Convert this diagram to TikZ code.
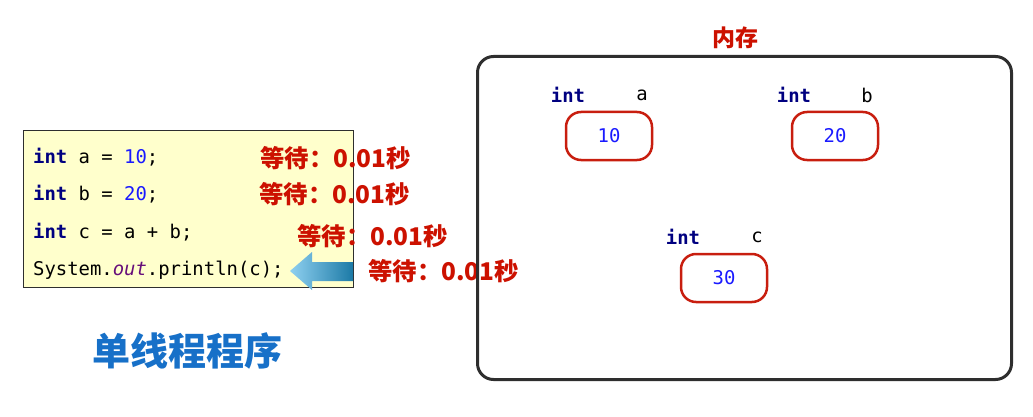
\documentclass[tikz,border=0pt]{standalone}
\usepackage{fontspec}
\setmonofont{DejaVu Sans Mono}
\newfontfamily\cjk{Noto Sans CJK SC}
\definecolor{kw}{HTML}{000080}
\definecolor{num}{HTML}{1A1AFF}
\definecolor{fld}{HTML}{660E7A}
\definecolor{wait}{HTML}{CC1100}
\definecolor{codebg}{HTML}{FFFFCC}
\definecolor{frame}{HTML}{2E2E2E}
\definecolor{cellred}{HTML}{C81E0F}
\definecolor{titleblue}{HTML}{1770C8}
\definecolor{arrowL}{HTML}{8FD0F0}
\definecolor{arrowR}{HTML}{1C7AA6}
\tikzset{
  code/.style={anchor=west,inner sep=0pt,font=\ttfamily\fontsize{18.9}{22}\selectfont},
  waitlbl/.style={anchor=west,inner sep=0pt,text=wait,font=\cjk\bfseries\fontsize{24.4}{27}\selectfont},
  memtxt/.style={inner sep=0pt,font=\ttfamily\fontsize{18.9}{22}\selectfont},
  memkw/.style={memtxt,text=kw,font=\ttfamily\bfseries\fontsize{18.9}{22}\selectfont},
  cell/.style={draw=cellred,line width=2.5pt,rounded corners=15pt,minimum width=86pt,minimum height=48pt,inner sep=0pt,text=num,font=\ttfamily\fontsize{18.9}{22}\selectfont},
}
\begin{document}
\begin{tikzpicture}[x=1pt,y=-1pt]
\useasboundingbox (0,0) rectangle (1033,417);
% code box
\node[draw=frame,line width=0.8pt,fill=codebg,minimum width=330pt,minimum height=157pt,inner sep=0pt,anchor=north west] (codebox) at (23,130) {};
\node[code] (l1) at (33,157) {\textcolor{kw}{\bfseries int} a = \textcolor{num}{10};};
\node[code] (l2) at (33,194) {\textcolor{kw}{\bfseries int} b = \textcolor{num}{20};};
\node[code] (l3) at (33,232) {\textcolor{kw}{\bfseries int} c = a + b;};
\node[code] (l4) at (33,270) {System.\textcolor{fld}{\itshape out}.println(c);};
% arrow
\shade[left color=arrowL, right color=arrowR]
  (290,271) -- (312,252) -- (312,262) -- (353,262) -- (353,281) -- (312,281) -- (312,290) -- cycle;
% wait labels
\node[waitlbl] (w1) at (260,158) {等待：0.01秒};
\node[waitlbl] (w2) at (259,194) {等待：0.01秒};
\node[waitlbl] (w3) at (297,236) {等待：0.01秒};
\node[waitlbl] (w4) at (368,271) {等待：0.01秒};
% title
\node[inner sep=0pt,text=titleblue,font=\cjk\bfseries\fontsize{38}{40}\selectfont] (title) at (187,351) {单线程程序};
% memory
\node[draw=frame,line width=3pt,rounded corners=16pt,minimum width=534pt,minimum height=323pt,inner sep=0pt,anchor=north west] (mem) at (476,55) {};
\node[inner sep=0pt,text=wait,font=\cjk\bfseries\fontsize{23}{26}\selectfont] (memlbl) at (735,38) {内存};
% a
\node[memkw] (ta) at (568,95) {int};
\node[memtxt] (na) at (642,95) {a};
\node[cell] (ca) at (609,136) {10};
% b
\node[memkw] (tb) at (794,95) {int};
\node[memtxt] (nb) at (867,95) {b};
\node[cell] (cb) at (835,136) {20};
% c
\node[memkw] (tc) at (683,237) {int};
\node[memtxt] (nc) at (757,237) {c};
\node[cell] (cc) at (724,278) {30};
\end{tikzpicture}
\end{document}
